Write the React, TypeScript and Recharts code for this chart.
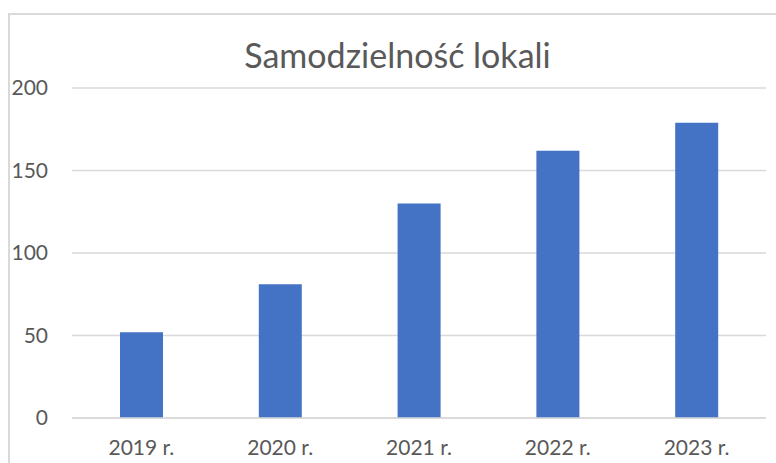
import * as React from "react"
import { BarChart, Bar, XAxis, YAxis, CartesianGrid } from "recharts"

const years = ["2019 r.", "2020 r.", "2021 r.", "2022 r.", "2023 r."]
const values = [52, 81, 130, 162, 179]
const yTicks = [0, 50, 100, 150, 200]

const data = years.map((year, i) => ({ year, value: values[i] }))

const textColor = "#595959"
const gridColor = "#d9d9d9"
const font = "Lato, 'Open Sans', sans-serif"

export default function App() {
  return (
    <div
      style={{
        position: "fixed",
        left: 0,
        top: 0,
        width: 776,
        height: 463,
        overflow: "hidden",
        background: "#fff",
        fontFamily: font,
      }}
    >
      <div
        style={{
          position: "absolute",
          left: 8,
          top: 13,
          width: 820,
          height: 520,
          border: `2px solid ${gridColor}`,
        }}
      />
      <div
        style={{
          position: "absolute",
          left: 0,
          width: 795,
          top: 38,
          textAlign: "center",
          fontSize: 34,
          lineHeight: "34px",
          color: textColor,
          fontWeight: 400,
        }}
      >
        Samodzielność lokali
      </div>
      <div style={{ position: "absolute", left: 0, top: 0 }}>
        <BarChart
          width={776}
          height={463}
          data={data}
          margin={{ top: 88, right: 10, bottom: 0, left: 0 }}
        >
          <CartesianGrid vertical={false} stroke={gridColor} strokeWidth={1.5} />
          <XAxis
            dataKey="year"
            height={45}
            axisLine={{ stroke: gridColor, strokeWidth: 1.5 }}
            tickLine={false}
            tickSize={0}
            tickMargin={22}
            tick={{ fill: textColor, fontSize: 21, fontFamily: font }}
          />
          <YAxis
            domain={[0, 200]}
            ticks={yTicks}
            width={72}
            axisLine={false}
            tickLine={false}
            tickSize={0}
            tickMargin={24}
            tick={{ fill: textColor, fontSize: 21, fontFamily: font }}
          />
          <Bar dataKey="value" fill="#4472C4" barSize={43} isAnimationActive={false} />
        </BarChart>
      </div>
    </div>
  )
}
